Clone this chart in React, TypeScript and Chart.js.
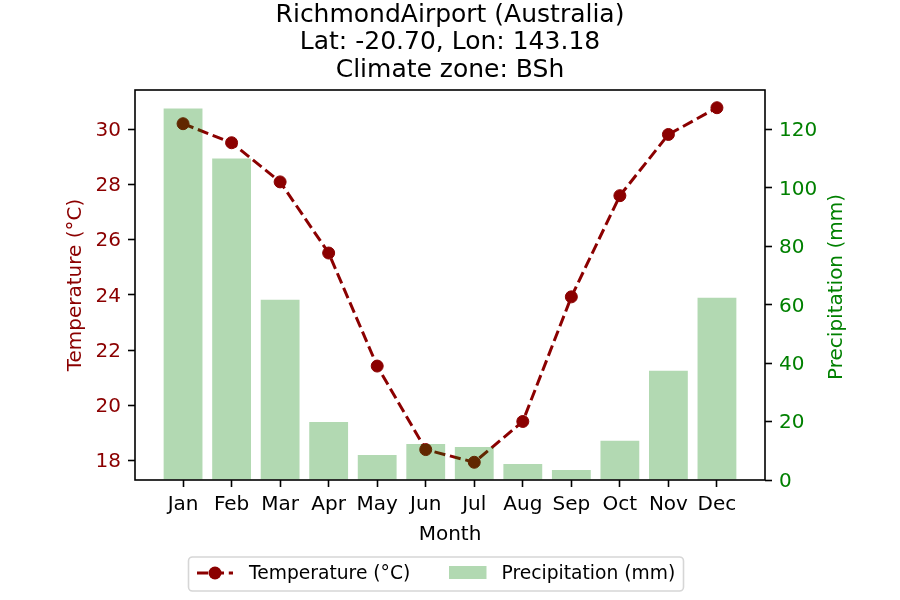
import { useEffect, useRef } from "react";
import { Chart, registerables } from "chart.js";

Chart.register(...registerables);

const months = ["Jan", "Feb", "Mar", "Apr", "May", "Jun", "Jul", "Aug", "Sep", "Oct", "Nov", "Dec"];
const temperature = [30.21, 29.52, 28.1, 25.52, 21.42, 18.39, 17.93, 19.41, 23.93, 27.6, 29.82, 30.79];
const precipitation = [127.2, 110.1, 61.7, 19.9, 8.6, 12.3, 11.3, 5.5, 3.4, 13.4, 37.4, 62.4];
const tempTicks = [18, 20, 22, 24, 26, 28, 30];
const precipTicks = [0, 20, 40, 60, 80, 100, 120];
const titleLines = ["RichmondAirport (Australia)", "Lat: -20.70, Lon: 143.18", "Climate zone: BSh"];
const xLabel = "Month";
const tempLabel = "Temperature (°C)";
const precipLabel = "Precipitation (mm)";

const FONT = '"DejaVu Sans", sans-serif';
const TEMP_COLOR = "#8b0000";
const PRECIP_COLOR = "green";
const BAR_FILL = "rgba(0,128,0,0.3)";

// matplotlib-like autoscale limits (5% margins)
const barWidth = 0.8;
const xLo = -barWidth / 2;
const xHi = months.length - 1 + barWidth / 2;
const xMargin = 0.05 * (xHi - xLo);
const tMinV = Math.min(...temperature);
const tMaxV = Math.max(...temperature);
const tMargin = 0.05 * (tMaxV - tMinV);
const pMaxV = Math.max(...precipitation);

const decorPlugin = {
  id: "decor",
  afterDraw(chart: any) {
    const ctx: CanvasRenderingContext2D = chart.ctx;
    const a = chart.chartArea;
    ctx.save();
    // frame
    ctx.strokeStyle = "#000";
    ctx.lineWidth = 1.6;
    ctx.setLineDash([]);
    ctx.strokeRect(a.left, a.top, a.right - a.left, a.bottom - a.top);

    // title
    ctx.fillStyle = "#000";
    ctx.textAlign = "center";
    ctx.textBaseline = "alphabetic";
    ctx.font = `25px ${FONT}`;
    const cx = (a.left + a.right) / 2;
    const baselines = [22, 49.3, 76.7];
    titleLines.forEach((t, i) => ctx.fillText(t, cx, baselines[i]));

    // x label
    ctx.font = `20px ${FONT}`;
    ctx.fillText(xLabel, cx, 539.5);

    const cy = (a.top + a.bottom) / 2;
    // left y label
    ctx.save();
    ctx.translate(81, cy);
    ctx.rotate(-Math.PI / 2);
    ctx.fillStyle = TEMP_COLOR;
    ctx.fillText(tempLabel, 0, 0);
    ctx.restore();
    // right y label
    ctx.save();
    ctx.translate(841.5, cy + 2);
    ctx.rotate(-Math.PI / 2);
    ctx.fillStyle = PRECIP_COLOR;
    ctx.fillText(precipLabel, 0, 0);
    ctx.restore();

    // legend
    ctx.beginPath();
    (ctx as any).roundRect(188.5, 557, 495, 34, 4);
    ctx.fillStyle = "rgba(255,255,255,0.8)";
    ctx.fill();
    ctx.strokeStyle = "#d6d6d6";
    ctx.lineWidth = 1.6;
    ctx.stroke();

    const ly = 573;
    ctx.strokeStyle = TEMP_COLOR;
    ctx.lineWidth = 3;
    ctx.setLineDash([11.1, 4.8]);
    ctx.beginPath();
    ctx.moveTo(197, ly);
    ctx.lineTo(233, ly);
    ctx.stroke();
    ctx.setLineDash([]);
    ctx.beginPath();
    ctx.arc(215, ly, 6.5, 0, Math.PI * 2);
    ctx.fillStyle = TEMP_COLOR;
    ctx.fill();

    ctx.fillStyle = BAR_FILL;
    ctx.fillRect(449, 566, 37.5, 13);

    ctx.fillStyle = "#000";
    ctx.textAlign = "left";
    ctx.font = `18.7px ${FONT}`;
    ctx.fillText(tempLabel, 249, 579.3);
    ctx.fillText(precipLabel, 501.5, 579.3);
    ctx.restore();
  },
};

export default function App() {
  const ref = useRef<HTMLCanvasElement | null>(null);

  useEffect(() => {
    if (!ref.current) return;
    const gridOpts = {
      display: true,
      offset: false,
      drawOnChartArea: false,
      drawTicks: true,
      tickLength: 7,
      tickWidth: 1.6,
      tickColor: "#000",
    };
    const chart = new Chart(ref.current, {
      type: "bar",
      data: {
        datasets: [
          {
            type: "line",
            label: tempLabel,
            data: months.map((_, i) => ({ x: i, y: temperature[i] })),
            yAxisID: "y",
            xAxisID: "x",
            borderColor: TEMP_COLOR,
            borderWidth: 3,
            borderDash: [11.1, 4.8],
            pointRadius: 6,
            pointBorderWidth: 1,
            pointBackgroundColor: TEMP_COLOR,
            pointBorderColor: TEMP_COLOR,
            tension: 0,
            fill: false,
            order: 2,
          } as any,
          {
            type: "bar",
            label: precipLabel,
            data: months.map((_, i) => ({ x: i, y: precipitation[i] })),
            yAxisID: "y1",
            xAxisID: "x",
            backgroundColor: BAR_FILL,
            borderWidth: 0,
            barPercentage: barWidth,
            categoryPercentage: 1,
            order: 1,
          } as any,
        ],
      },
      options: {
        animation: false,
        responsive: false,
        devicePixelRatio: 1,
        layout: { padding: { top: 90, left: 0, right: 0, bottom: 0 } },
        plugins: {
          legend: { display: false },
          title: { display: false },
          tooltip: { enabled: false },
        },
        scales: {
          x: {
            type: "linear",
            position: "bottom",
            min: xLo - xMargin,
            max: xHi + xMargin,
            offset: false,
            grid: gridOpts,
            border: { display: false },
            afterBuildTicks: (s: any) => {
              s.ticks = months.map((_, i) => ({ value: i }));
            },
            afterFit: (s: any) => {
              s.height = 120;
            },
            ticks: {
              autoSkip: false,
              maxRotation: 0,
              padding: 6,
              color: "#000",
              font: { size: 20, family: FONT },
              callback: (v: any) => months[Math.round(Number(v))] ?? "",
            },
          },
          y: {
            type: "linear",
            position: "left",
            min: tMinV - tMargin,
            max: tMaxV + tMargin,
            grid: gridOpts,
            border: { display: false },
            afterBuildTicks: (s: any) => {
              s.ticks = tempTicks.map((v) => ({ value: v }));
            },
            afterFit: (s: any) => {
              s.width = 135;
            },
            ticks: {
              padding: 7,
              labelOffset: 1.5,
              color: TEMP_COLOR,
              font: { size: 20, family: FONT },
              callback: (v: any) => String(v),
            },
          },
          y1: {
            type: "linear",
            position: "right",
            min: 0,
            max: pMaxV * 1.05,
            grid: gridOpts,
            border: { display: false },
            afterBuildTicks: (s: any) => {
              s.ticks = precipTicks.map((v) => ({ value: v }));
            },
            afterFit: (s: any) => {
              s.width = 135;
            },
            ticks: {
              padding: 7,
              labelOffset: 1.5,
              color: PRECIP_COLOR,
              font: { size: 20, family: FONT },
              callback: (v: any) => String(v),
            },
          },
        },
      } as any,
      plugins: [decorPlugin],
    });
    return () => chart.destroy();
  }, []);

  return (
    <div style={{ position: "absolute", left: 0, top: 0, width: 900, height: 600, background: "#fff" }}>
      <canvas ref={ref} width={900} height={600} style={{ display: "block" }} />
    </div>
  );
}
